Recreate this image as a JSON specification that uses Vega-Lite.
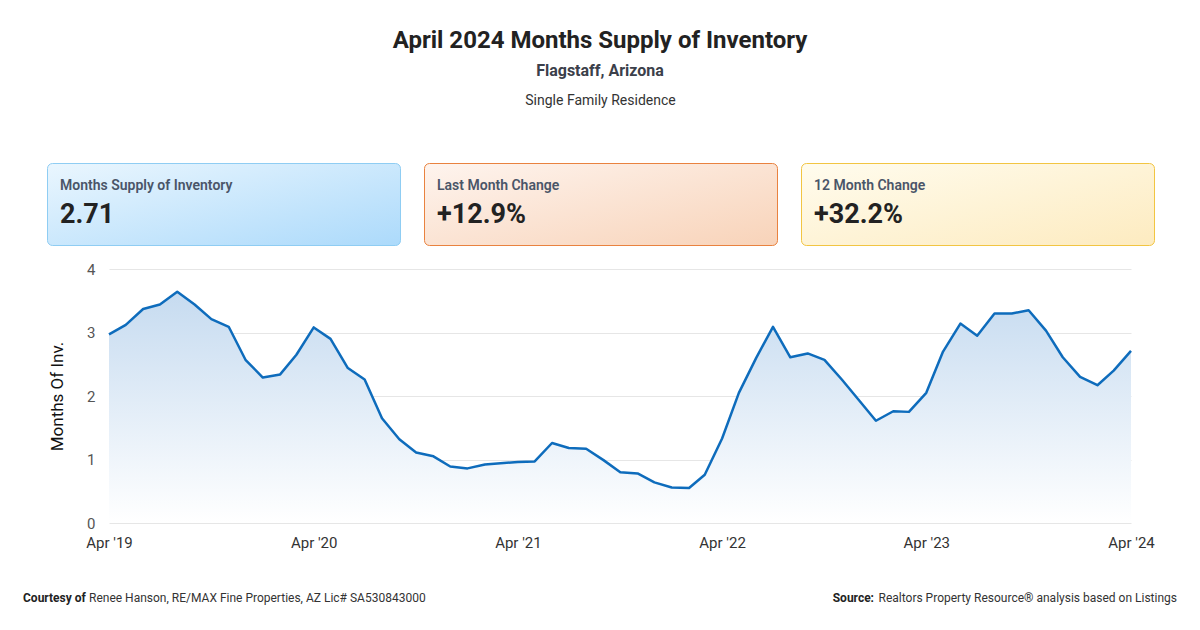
{
  "$schema": "https://vega.github.io/schema/vega-lite/v6.json",
  "background": "white",
  "padding": {"left": 23, "top": 28, "right": 0, "bottom": 4},
  "config": {"font": "Roboto", "view": {"stroke": null}},
  "title": {
    "text": "April 2024 Months Supply of Inventory",
    "subtitle": "Flagstaff, Arizona",
    "anchor": "middle",
    "fontSize": 24,
    "fontWeight": "bold",
    "color": "#222222",
    "subtitleFontSize": 16,
    "subtitleFontWeight": "bold",
    "subtitleColor": "#3b404a",
    "subtitlePadding": 10,
    "offset": 15
  },
  "align": "none",
  "center": false,
  "spacing": 16,
  "vconcat": [
    {
      "title": {"text": "Single Family Residence", "fontSize": 14, "fontWeight": "normal", "color": "#333333", "anchor": "middle", "offset": 55},
      "spacing": 22,
      "hconcat": [
        {
          "width": 353, "height": 82,
          "data": {"values": [{"label": "Months Supply of Inventory", "value": "2.71"}]},
          "mark": {"type": "text", "opacity": 0},
          "encoding": {"text": {"field": "value"}},
          "view": {
            "fill": {"gradient": "linear", "x1": 0, "y1": 0, "x2": 1, "y2": 1,
              "stops": [{"offset": 0, "color": "#eaf6fe"}, {"offset": 1, "color": "#acdafb"}]},
            "stroke": "#8fcdf3", "strokeWidth": 1, "cornerRadius": 5
          },
          "title": {"text": "Months Supply of Inventory", "subtitle": "2.71", "anchor": "start", "frame": "group", "orient": "top", "offset": -65, "dx": 13,
            "fontSize": 14, "fontWeight": 600, "color": "#4a5568", "subtitleFontSize": 27, "subtitleFontWeight": "bold", "subtitleColor": "#222222", "subtitlePadding": 9}
        },
        {
          "width": 353, "height": 82,
          "data": {"values": [{"label": "Last Month Change", "value": "+12.9%"}]},
          "mark": {"type": "text", "opacity": 0},
          "encoding": {"text": {"field": "value"}},
          "view": {
            "fill": {"gradient": "linear", "x1": 0, "y1": 0, "x2": 1, "y2": 1,
              "stops": [{"offset": 0, "color": "#fef4ee"}, {"offset": 1, "color": "#f8d3b9"}]},
            "stroke": "#e9823f", "strokeWidth": 1, "cornerRadius": 5
          },
          "title": {"text": "Last Month Change", "subtitle": "+12.9%", "anchor": "start", "frame": "group", "orient": "top", "offset": -65, "dx": 13,
            "fontSize": 14, "fontWeight": 600, "color": "#4a5568", "subtitleFontSize": 27, "subtitleFontWeight": "bold", "subtitleColor": "#222222", "subtitlePadding": 9}
        },
        {
          "width": 353, "height": 82,
          "data": {"values": [{"label": "12 Month Change", "value": "+32.2%"}]},
          "mark": {"type": "text", "opacity": 0},
          "encoding": {"text": {"field": "value"}},
          "view": {
            "fill": {"gradient": "linear", "x1": 0, "y1": 0, "x2": 1, "y2": 1,
              "stops": [{"offset": 0, "color": "#fffcee"}, {"offset": 1, "color": "#fdebc0"}]},
            "stroke": "#f2c542", "strokeWidth": 1, "cornerRadius": 5
          },
          "title": {"text": "12 Month Change", "subtitle": "+32.2%", "anchor": "start", "frame": "group", "orient": "top", "offset": -65, "dx": 13,
            "fontSize": 14, "fontWeight": 600, "color": "#4a5568", "subtitleFontSize": 27, "subtitleFontWeight": "bold", "subtitleColor": "#222222", "subtitlePadding": 9}
        }
      ]
    },
    {
      "spacing": 0,
      "hconcat": [
        {
          "width": 1,
          "height": 254,
          "data": {"values": [{"note": ""}]},
          "mark": {"type": "text", "opacity": 0},
          "encoding": {"text": {"field": "note"}}
        },
        {
          "width": 1022,
          "height": 254,
          "data": {"values": [
            {"date": "2019-04-01", "value": 2.97},
            {"date": "2019-05-01", "value": 3.12},
            {"date": "2019-06-01", "value": 3.37},
            {"date": "2019-07-01", "value": 3.44},
            {"date": "2019-08-01", "value": 3.64},
            {"date": "2019-09-01", "value": 3.44},
            {"date": "2019-10-01", "value": 3.21},
            {"date": "2019-11-01", "value": 3.09},
            {"date": "2019-12-01", "value": 2.57},
            {"date": "2020-01-01", "value": 2.29},
            {"date": "2020-02-01", "value": 2.34},
            {"date": "2020-03-01", "value": 2.65},
            {"date": "2020-04-01", "value": 3.08},
            {"date": "2020-05-01", "value": 2.90},
            {"date": "2020-06-01", "value": 2.44},
            {"date": "2020-07-01", "value": 2.26},
            {"date": "2020-08-01", "value": 1.65},
            {"date": "2020-09-01", "value": 1.32},
            {"date": "2020-10-01", "value": 1.11},
            {"date": "2020-11-01", "value": 1.05},
            {"date": "2020-12-01", "value": 0.89},
            {"date": "2021-01-01", "value": 0.86},
            {"date": "2021-02-01", "value": 0.92},
            {"date": "2021-03-01", "value": 0.94},
            {"date": "2021-04-01", "value": 0.96},
            {"date": "2021-05-01", "value": 0.97},
            {"date": "2021-06-01", "value": 1.26},
            {"date": "2021-07-01", "value": 1.18},
            {"date": "2021-08-01", "value": 1.17},
            {"date": "2021-09-01", "value": 0.99},
            {"date": "2021-10-01", "value": 0.80},
            {"date": "2021-11-01", "value": 0.78},
            {"date": "2021-12-01", "value": 0.64},
            {"date": "2022-01-01", "value": 0.56},
            {"date": "2022-02-01", "value": 0.55},
            {"date": "2022-03-01", "value": 0.76},
            {"date": "2022-04-01", "value": 1.33},
            {"date": "2022-05-01", "value": 2.05},
            {"date": "2022-06-01", "value": 2.60},
            {"date": "2022-07-01", "value": 3.09},
            {"date": "2022-08-01", "value": 2.61},
            {"date": "2022-09-01", "value": 2.67},
            {"date": "2022-10-01", "value": 2.57},
            {"date": "2022-11-01", "value": 2.26},
            {"date": "2022-12-01", "value": 1.94},
            {"date": "2023-01-01", "value": 1.61},
            {"date": "2023-02-01", "value": 1.76},
            {"date": "2023-03-01", "value": 1.75},
            {"date": "2023-04-01", "value": 2.05},
            {"date": "2023-05-01", "value": 2.70},
            {"date": "2023-06-01", "value": 3.14},
            {"date": "2023-07-01", "value": 2.95},
            {"date": "2023-08-01", "value": 3.30},
            {"date": "2023-09-01", "value": 3.30},
            {"date": "2023-10-01", "value": 3.35},
            {"date": "2023-11-01", "value": 3.03},
            {"date": "2023-12-01", "value": 2.61},
            {"date": "2024-01-01", "value": 2.30},
            {"date": "2024-02-01", "value": 2.17},
            {"date": "2024-03-01", "value": 2.40},
            {"date": "2024-04-01", "value": 2.71}
          ]},
          "encoding": {
            "x": {
              "field": "date", "type": "temporal",
              "scale": {"type": "utc", "nice": false, "domain": [
                {"year": 2019, "month": 4, "date": 1, "utc": true},
                {"year": 2024, "month": 4, "date": 1, "utc": true}
              ]},
              "axis": {
                "values": [
                  {"year": 2019, "month": 4, "date": 1, "utc": true},
                  {"year": 2020, "month": 4, "date": 1, "utc": true},
                  {"year": 2021, "month": 4, "date": 1, "utc": true},
                  {"year": 2022, "month": 4, "date": 1, "utc": true},
                  {"year": 2023, "month": 4, "date": 1, "utc": true},
                  {"year": 2024, "month": 4, "date": 1, "utc": true}
                ],
                "format": "%b '%y",
                "title": null, "labelAngle": 0, "ticks": false, "domain": false, "grid": false,
                "labelFontSize": 15, "labelColor": "#333333", "labelPadding": 12,
                "labelOverlap": false, "labelFlush": false, "labelBound": false
              }
            },
            "y": {
              "field": "value", "type": "quantitative",
              "scale": {"domain": [0, 4], "nice": false},
              "axis": {
                "values": [0, 1, 2, 3, 4], "title": "Months Of Inv.",
                "titleFontSize": 17, "titleFontWeight": "normal", "titleColor": "#111111", "titlePadding": 20,
                "labelFontSize": 15, "labelColor": "#555555", "labelPadding": 14,
                "ticks": false, "domain": false, "grid": true, "gridColor": "#e6e6e6", "gridWidth": 1
              }
            }
          },
          "layer": [
            {
              "mark": {
                "type": "area",
                "fill": {"gradient": "linear", "x1": 0, "y1": 0, "x2": 0, "y2": 1,
                  "stops": [{"offset": 0, "color": "#c6dbf0"}, {"offset": 1, "color": "#ffffff"}]}
              }
            },
            {
              "mark": {"type": "line", "stroke": "#0e6cbc", "strokeWidth": 2.5, "strokeJoin": "round"}
            }
          ]
        }
      ]
    },
    {
      "width": 1130,
      "height": 64,
      "data": {"values": [
        {"side": "left", "bold": "Courtesy of", "text": "Renee Hanson, RE/MAX Fine Properties, AZ Lic# SA530843000"},
        {"side": "right", "bold": "Source:", "text": "Realtors Property Resource® analysis based on Listings"}
      ]},
      "encoding": {
        "x": {"field": "side", "type": "nominal", "scale": {"type": "point", "domain": ["left", "right"], "padding": 0}, "axis": null}
      },
      "layer": [
        {
          "transform": [{"filter": "datum.side == 'left'"}],
          "mark": {"type": "text", "align": "left", "dx": -24, "fontSize": 12, "fontWeight": "bold", "color": "#222222"},
          "encoding": {"text": {"field": "bold"}}
        },
        {
          "transform": [{"filter": "datum.side == 'left'"}],
          "mark": {"type": "text", "align": "left", "dx": 42, "fontSize": 12, "color": "#333333"},
          "encoding": {"text": {"field": "text"}}
        },
        {
          "transform": [{"filter": "datum.side == 'right'"}],
          "mark": {"type": "text", "align": "right", "fontSize": 12, "color": "#333333"},
          "encoding": {"text": {"field": "text"}}
        },
        {
          "transform": [{"filter": "datum.side == 'right'"}],
          "mark": {"type": "text", "align": "right", "dx": -303, "fontSize": 12, "fontWeight": "bold", "color": "#222222"},
          "encoding": {"text": {"field": "bold"}}
        }
      ]
    }
  ]
}
